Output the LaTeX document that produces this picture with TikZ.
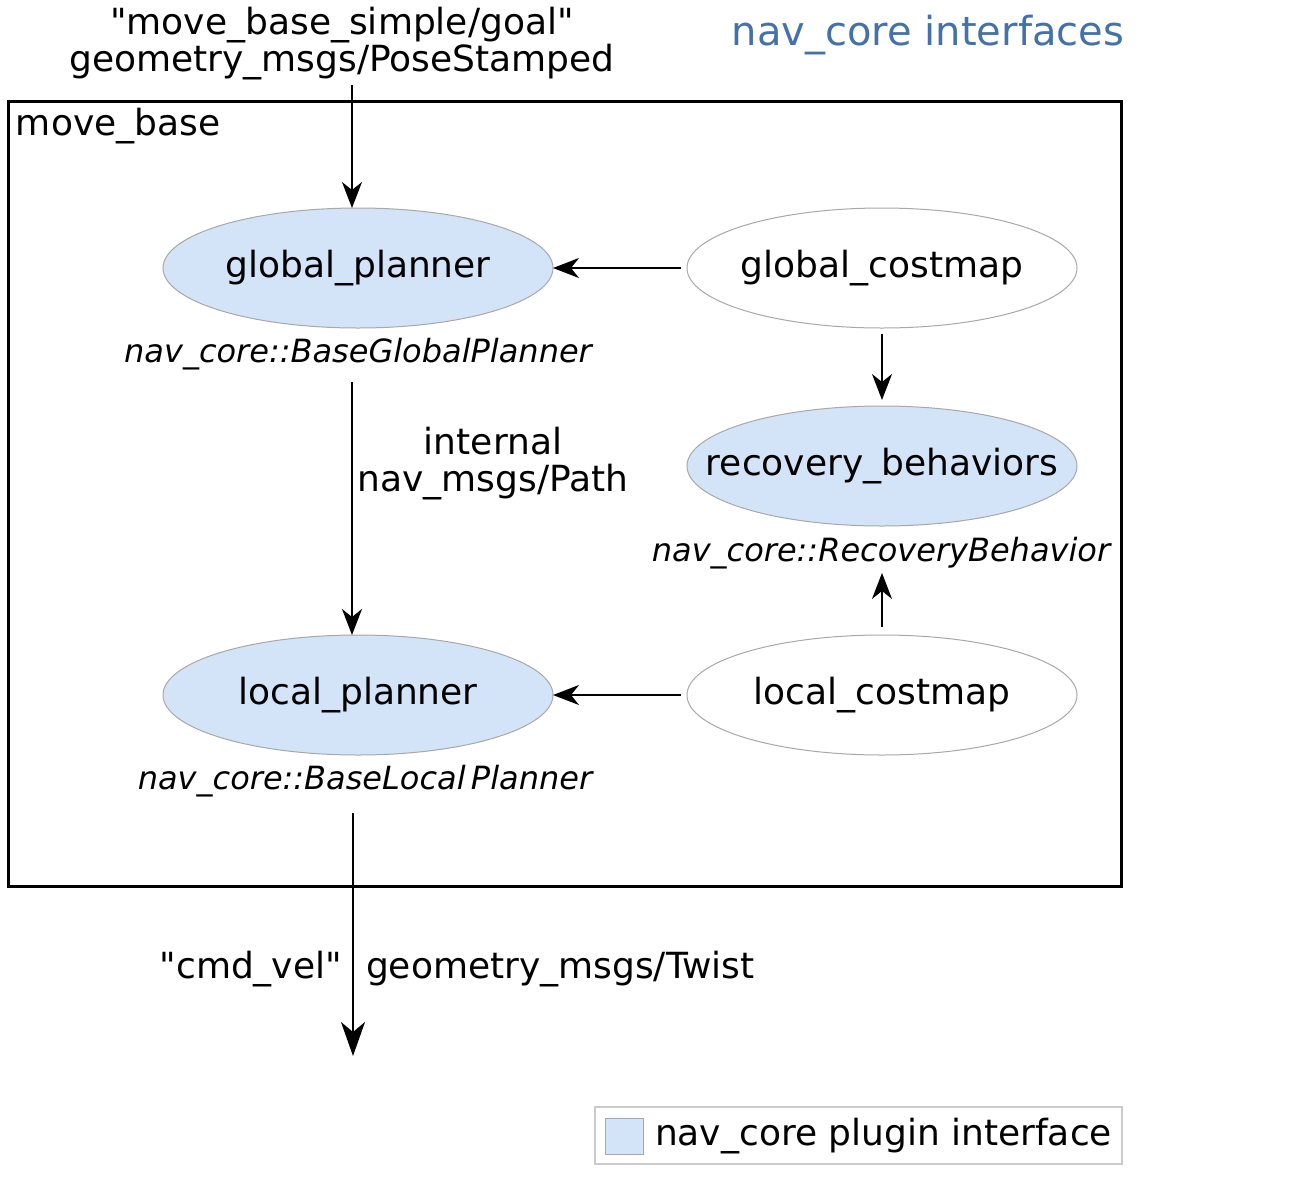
\documentclass[tikz,border=0pt]{standalone}
\usepackage{fontspec}
\setmainfont{DejaVu Sans}[Ligatures=TeXOff]
\usetikzlibrary{shapes.geometric,arrows.meta}
\definecolor{plug}{HTML}{D3E4F8}
\definecolor{edgegrey}{HTML}{A8A8A8}
\definecolor{titleblue}{HTML}{4472A8}
\newcommand{\dq}{\symbol{34}}
\tikzset{
  x=0.5pt,y=-0.5pt,
  every node/.style={inner sep=0pt,outer sep=0pt,font=\fontsize{18}{18.5}\selectfont},
  ell/.style={ellipse,draw=edgegrey,line width=0.5pt,minimum width=195pt,minimum height=60pt,inner xsep=-40pt},
  plugin/.style={ell,fill=plug},
  plain/.style={ell,fill=white},
  iface/.style={font=\fontsize{16}{18}\itshape},
  conn/.style={line width=0.9pt,-{Stealth[length=13pt,width=10pt,inset=4pt]}},
  bigconn/.style={line width=0.9pt,-{Stealth[length=17pt,width=12pt,inset=5pt]}},
}
\begin{document}
\begin{tikzpicture}
\useasboundingbox (0,0) rectangle (1292,1190);
% title
\node[text=titleblue,font=\fontsize{20}{22}\selectfont] (title) at (928,35) {nav\_core interfaces};
% top label
\node[align=center] (goal) at (342,44) {\dq move\_base\_simple/goal\dq\\geometry\_msgs/PoseStamped};
\coordinate (goalend) at (352,85);
% move_base box
\draw[line width=1.5pt] (8,101) rectangle (1121,886);
\node[anchor=north west] (mb) at (16,108) {move\_base};
% ellipses
\node[plugin] (gp) at (358,268) {global\_planner};
\node[plain] (gc) at (882,268) {global\_costmap};
\node[plugin] (rb) at (882,466) {recovery\_behaviors};
\node[plugin] (lp) at (358,695) {local\_planner};
\node[plain] (lc) at (882,695) {local\_costmap};
% interface labels
\node[iface] (gpi) at (358,354) {nav\_core::BaseGlobalPlanner};
\node[iface] (rbi) at (881,553) {nav\_core::RecoveryBehavior};
\node[iface] (lpi) at (365,781) {nav\_core::BaseLocal\,Planner};
% path label
\node[align=center] (path) at (493,464) {internal\\nav\_msgs/Path};
% connectors
\draw[conn] (gc.west) ++(-6,0) -- (gp.east);
\draw[conn] (goalend) -- (gp.north -| goalend);
\draw[conn] (gc.south) ++(0,6) -- ([yshift=3pt]rb.north);
\draw[conn] ([yshift=4pt]lc.north) -- ([yshift=-2pt]rbi.south -| lc.north);
\draw[conn] (lc.west) ++(-6,0) -- (lp.east);
\draw[conn] ([yshift=-6pt]gpi.south -| 352,0) -- (lp.north -| 352,0);
\coordinate (out) at (353,1056);
\draw[bigconn] ([yshift=-8pt]lpi.south -| out) -- (out);
% cmd_vel labels
\node[anchor=east] (cmd) at (342,969) {\dq cmd\_vel\dq};
\node[anchor=west] (twist) at (366,969) {geometry\_msgs/Twist};
% legend
\draw[edgegrey!60,line width=0.6pt] (595,1107) rectangle (1122,1164);
\node[draw=edgegrey,fill=plug,line width=0.5pt,minimum width=19pt,minimum height=18pt] (legbox) at (624,1136) {};
\node[anchor=west] (legtext) at (655,1136) {nav\_core plugin interface};
\end{tikzpicture}
\end{document}
